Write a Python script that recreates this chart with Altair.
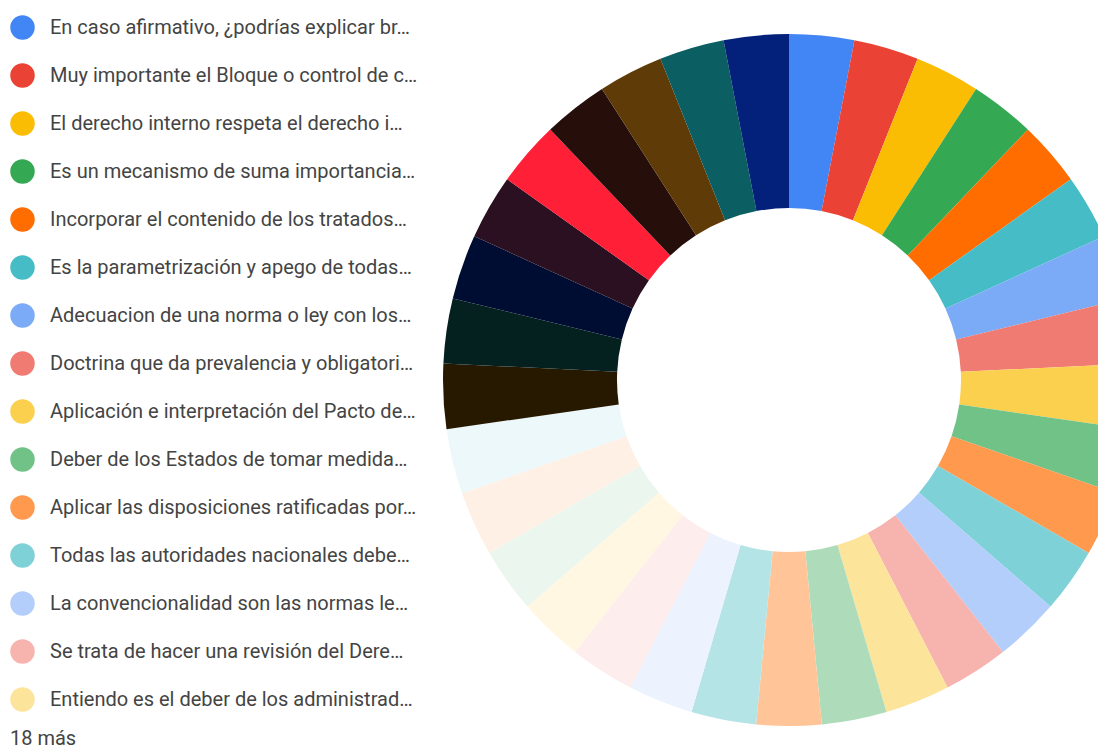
import altair as alt
import pandas as pd

shown_labels = [
    "En caso afirmativo, ¿podrías explicar br…",
    "Muy importante el Bloque o control de c…",
    "El derecho interno respeta el derecho i…",
    "Es un mecanismo de suma importancia…",
    "Incorporar el contenido de los tratados…",
    "Es la parametrización y apego de todas…",
    "Adecuacion de una norma o ley con los…",
    "Doctrina que da prevalencia y obligatori…",
    "Aplicación e interpretación del Pacto de…",
    "Deber de los Estados de tomar medida…",
    "Aplicar las disposiciones ratificadas por…",
    "Todas las autoridades nacionales debe…",
    "La convencionalidad son las normas le…",
    "Se trata de hacer una revisión del Dere…",
    "Entiendo es el deber de los administrad…",
]
hidden_labels = [
    "Respuesta 16", "Respuesta 17", "Respuesta 18", "Respuesta 19", "Respuesta 20",
    "Respuesta 21", "Respuesta 22", "Respuesta 23", "Respuesta 24", "Respuesta 25",
    "Respuesta 26", "Respuesta 27", "Respuesta 28", "Respuesta 29", "Respuesta 30",
    "Respuesta 31", "Respuesta 32", "Respuesta 33",
]
labels = shown_labels + hidden_labels
counts = [1, 1, 1, 1, 1, 1, 1, 1, 1, 1, 1,
          1, 1, 1, 1, 1, 1, 1, 1, 1, 1, 1,
          1, 1, 1, 1, 1, 1, 1, 1, 1, 1, 1]
colors = [
    "#4285F4", "#EA4335", "#FBBC04", "#34A853", "#FF6D01", "#46BDC6",
    "#7BAAF7", "#F07B72", "#FCD04F", "#71C287", "#FF994D", "#7ED1D7",
    "#B3CEFB", "#F7B4AE", "#FDE49B", "#AEDCBA", "#FFC599", "#B5E4E7",
    "#ECF2FE", "#FDEDEC", "#FFF7E1", "#EBF6EE", "#FFF0E6", "#ECF8F9",
    "#261900", "#04211F", "#000D33", "#2A1020", "#FF1F37", "#260E0B",
    "#5E3B07", "#0B5E62", "#03207A",
]
more_text = ["18 más"]

df = pd.DataFrame({
    "respuesta": labels,
    "cuenta": counts,
    "orden": list(range(len(labels))),
})

donut = alt.Chart(df).mark_arc(innerRadius=172, outerRadius=346).encode(
    theta=alt.Theta("cuenta:Q", stack=True),
    order=alt.Order("orden:Q"),
    color=alt.Color(
        "respuesta:N",
        scale=alt.Scale(domain=labels, range=colors),
        legend=alt.Legend(
            values=shown_labels,
            orient="none",
            legendX=2,
            legendY=7,
            title=None,
            symbolType="circle",
            symbolSize=600,
            symbolStrokeWidth=0,
            symbolOpacity=1,
            labelFont="Roboto",
            labelFontSize=20,
            labelColor="#444444",
            labelOffset=15,
            rowPadding=23,
            labelLimit=440,
            padding=0,
        ),
    ),
    x=alt.value(781),
    y=alt.value(372),
)

more = alt.Chart(pd.DataFrame({"t": more_text})).mark_text(
    align="left", baseline="alphabetic", font="Roboto", fontSize=20, color="#444444"
).encode(text="t:N", x=alt.value(2), y=alt.value(737))

chart = alt.layer(donut, more).properties(
    width=1090, height=744, padding=0, autosize="none"
).configure_view(stroke=None)

chart.save("out.html", embed_options={"renderer": "svg", "actions": False})
